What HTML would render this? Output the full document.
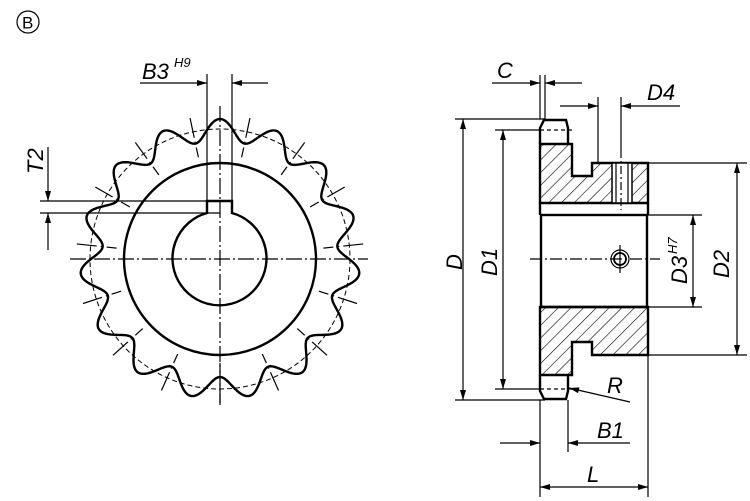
<!DOCTYPE html>
<html><head><style>
html,body{margin:0;padding:0;background:#fff}
svg{display:block}
text{font-family:"Liberation Sans",sans-serif;font-style:italic;fill:#000}
line{stroke-width:1.2}
</style></head><body>
<svg width="750" height="501" viewBox="0 0 750 501" xmlns="http://www.w3.org/2000/svg">
<defs>
<pattern id="h" patternUnits="userSpaceOnUse" width="9" height="9" patternTransform="rotate(45)">
<line x1="0" y1="0" x2="0" y2="9" stroke="#000" stroke-width="1.2"/>
</pattern>
<marker id="a" viewBox="0 0 10 6" refX="10" refY="3" markerWidth="11" markerHeight="6" orient="auto-start-reverse" markerUnits="userSpaceOnUse"><path d="M0,0L10,3L0,6z"/></marker>
</defs>
<circle cx="28" cy="22" r="11" fill="none" stroke="#000" stroke-width="1.2"/>
<text x="22" y="28.5" font-size="17" style="font-style:normal">B</text>

<g id="gear" fill="none" stroke="#000"></g>
<circle cx="220" cy="259" r="130" fill="none" stroke="#000" stroke-width="1" stroke-dasharray="5,3"/>
<circle cx="220" cy="259" r="96" fill="none" stroke="#000" stroke-width="2.4"/>
<path d="M207,201 H232 V213 A47,47 0 1 1 207,213 Z" fill="none" stroke="#000" stroke-width="2.4"/>
<line x1="70" y1="259" x2="368" y2="259" stroke="#000" stroke-width="1" stroke-dasharray="16,3,2,3"/>
<line x1="220" y1="106" x2="220" y2="405" stroke="#000" stroke-width="1" stroke-dasharray="16,3,2,3"/>
<line x1="207" y1="74" x2="207" y2="201" stroke="#000"/>
<line x1="232" y1="74" x2="232" y2="201" stroke="#000"/>
<line x1="140" y1="83" x2="207" y2="83" stroke="#000" marker-end="url(#a)"/>
<line x1="268" y1="83" x2="232" y2="83" stroke="#000" marker-end="url(#a)"/>
<text x="142" y="79" font-size="22">B3</text><text x="174" y="67" font-size="13">H9</text>
<line x1="40" y1="201" x2="220" y2="201" stroke="#000"/>
<line x1="40" y1="213" x2="220" y2="213" stroke="#000"/>
<line x1="48" y1="147" x2="48" y2="201" stroke="#000" marker-end="url(#a)"/>
<line x1="48" y1="250" x2="48" y2="213" stroke="#000" marker-end="url(#a)"/>
<text transform="translate(43,174) rotate(-90)" font-size="22">T2</text>

<path d="M540,144 H572 V176 H592 V163 H648 V203 H540 Z" fill="url(#h)" stroke="#000" stroke-width="2.4"/>
<path d="M540,307 H648 V355 H592 V342 H572 V375 H540 Z" fill="url(#h)" stroke="#000" stroke-width="2.4"/>
<rect x="612" y="163" width="20" height="40" fill="#fff" stroke="#000" stroke-width="1.5"/>
<line x1="616" y1="163" x2="616" y2="203" stroke="#000"/><line x1="628" y1="163" x2="628" y2="203" stroke="#000"/>
<line x1="621" y1="150" x2="621" y2="210" stroke="#000" stroke-width="1" stroke-dasharray="8,3,2,3"/>
<path d="M540,203 V215 M648,203 V215" stroke="#000" stroke-width="2.4"/>
<rect x="541" y="215" width="106" height="92" fill="none" stroke="#000" stroke-width="2.4"/>
<path d="M540,144 V128 L544,120 H566 L568,128 V144" fill="none" stroke="#000" stroke-width="2.4"/>
<path d="M540,375 V391 L544,399 H566 L568,391 V375" fill="none" stroke="#000" stroke-width="2.4"/>
<line x1="540" y1="130" x2="572" y2="130" stroke="#000" stroke-dasharray="4,3"/>
<line x1="540" y1="389" x2="572" y2="389" stroke="#000" stroke-dasharray="4,3"/>
<line x1="530" y1="259" x2="660" y2="259" stroke="#000" stroke-width="1" stroke-dasharray="12,3,2,3"/>
<circle cx="620" cy="259" r="9" fill="none" stroke="#000" stroke-width="1.2"/>
<circle cx="620" cy="259" r="6" fill="none" stroke="#000" stroke-width="1.8"/>
<line x1="620" y1="245" x2="620" y2="273" stroke="#000" stroke-width="1"/>
<line x1="455" y1="119" x2="545" y2="119" stroke="#000"/>
<line x1="455" y1="400" x2="545" y2="400" stroke="#000"/>
<line x1="463" y1="260" x2="463" y2="119" stroke="#000" marker-end="url(#a)"/>
<line x1="463" y1="260" x2="463" y2="400" stroke="#000" marker-end="url(#a)"/>
<text transform="translate(462,270) rotate(-90)" font-size="22">D</text>
<line x1="495" y1="130" x2="540" y2="130" stroke="#000"/>
<line x1="495" y1="389" x2="540" y2="389" stroke="#000"/>
<line x1="503" y1="250" x2="503" y2="130" stroke="#000" marker-end="url(#a)"/>
<line x1="503" y1="250" x2="503" y2="389" stroke="#000" marker-end="url(#a)"/>
<text transform="translate(497,276) rotate(-90)" font-size="22">D1</text>
<line x1="648" y1="163" x2="747" y2="163" stroke="#000"/>
<line x1="648" y1="355" x2="747" y2="355" stroke="#000"/>
<line x1="737" y1="250" x2="737" y2="163" stroke="#000" marker-end="url(#a)"/>
<line x1="737" y1="250" x2="737" y2="355" stroke="#000" marker-end="url(#a)"/>
<text transform="translate(729,278) rotate(-90)" font-size="22">D2</text>
<line x1="648" y1="215" x2="702" y2="215" stroke="#000"/>
<line x1="648" y1="307" x2="702" y2="307" stroke="#000"/>
<line x1="693" y1="260" x2="693" y2="215" stroke="#000" marker-end="url(#a)"/>
<line x1="693" y1="260" x2="693" y2="307" stroke="#000" marker-end="url(#a)"/>
<text transform="translate(687,284) rotate(-90)" font-size="22">D3</text>
<text transform="translate(677,254) rotate(-90)" font-size="13">H7</text>
<line x1="540" y1="75" x2="540" y2="119" stroke="#000"/>
<line x1="545" y1="75" x2="545" y2="119" stroke="#000"/>
<line x1="492" y1="83" x2="540" y2="83" stroke="#000" marker-end="url(#a)"/>
<line x1="582" y1="83" x2="545" y2="83" stroke="#000" marker-end="url(#a)"/>
<text x="497" y="78" font-size="22">C</text>
<line x1="598" y1="97" x2="598" y2="163" stroke="#000"/>
<line x1="621" y1="97" x2="621" y2="150" stroke="#000"/>
<line x1="560" y1="106" x2="598" y2="106" stroke="#000" marker-end="url(#a)"/>
<line x1="680" y1="106" x2="621" y2="106" stroke="#000" marker-end="url(#a)"/>
<text x="647" y="100" font-size="22">D4</text>
<line x1="630" y1="402" x2="569" y2="388" stroke="#000" marker-end="url(#a)"/>
<text x="607" y="393" font-size="22">R</text>
<line x1="540" y1="400" x2="540" y2="497" stroke="#000"/>
<line x1="568" y1="400" x2="568" y2="452" stroke="#000"/>
<line x1="648" y1="355" x2="648" y2="497" stroke="#000"/>
<line x1="500" y1="443" x2="540" y2="443" stroke="#000" marker-end="url(#a)"/>
<line x1="630" y1="443" x2="568" y2="443" stroke="#000" marker-end="url(#a)"/>
<text x="597" y="438" font-size="22">B1</text>
<line x1="594" y1="487" x2="540" y2="487" stroke="#000" marker-end="url(#a)"/>
<line x1="594" y1="487" x2="648" y2="487" stroke="#000" marker-end="url(#a)"/>
<text x="587" y="482" font-size="22">L</text>
</svg>
<script>
(function(){
var g=document.getElementById('gear'),cx=220,cy=259,n=15,d='',ns='http://www.w3.org/2000/svg';
for(var i=0;i<=900;i++){var t=i/900*2*Math.PI-Math.PI/2;var c=Math.cos(n*(t+Math.PI/2));
var r=129+11*c;
var x=cx+r*Math.cos(t),y=cy+r*Math.sin(t);d+=(i?'L':'M')+x.toFixed(2)+','+y.toFixed(2);}
var p=document.createElementNS(ns,'path');p.setAttribute('d',d+'Z');p.setAttribute('stroke-width','2.4');g.appendChild(p);
for(var k=0;k<n;k++){var t=(k+0.5)/n*2*Math.PI-Math.PI/2;
var l=document.createElementNS(ns,'line');
l.setAttribute('x1',cx+104*Math.cos(t));l.setAttribute('y1',cy+104*Math.sin(t));
l.setAttribute('x2',cx+146*Math.cos(t));l.setAttribute('y2',cy+146*Math.sin(t));
l.setAttribute('stroke-width','1');l.setAttribute('stroke-dasharray','10,4,2,4,20');g.appendChild(l);}
})();
</script>
</body></html>
